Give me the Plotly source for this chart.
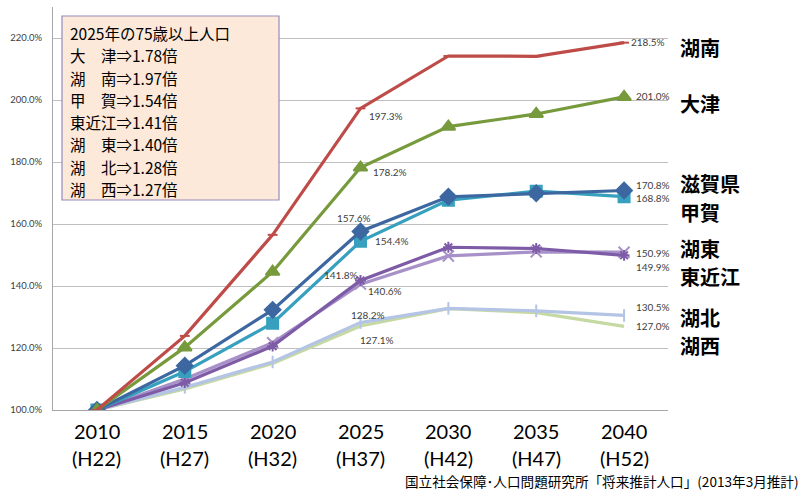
import plotly.graph_objects as go

years = ["2010", "2015", "2020", "2025", "2030", "2035", "2040"]
heisei = ["(H22)", "(H27)", "(H32)", "(H37)", "(H42)", "(H47)", "(H52)"]

konan = [100, 123.9, 156.5, 197.3, 214.2, 214.1, 218.5]
otsu = [100, 120.2, 144.6, 178.2, 191.4, 195.5, 201.0]
shiga = [100, 114.3, 132.3, 157.6, 168.8, 169.9, 170.8]
koka = [100, 112.4, 128.0, 154.4, 167.7, 170.6, 168.8]
higashiomi = [100, 108.8, 120.6, 141.8, 152.5, 152.1, 149.9]
koto = [100, 110.0, 121.7, 140.6, 149.7, 151.0, 150.9]
kohoku = [100, 107.3, 115.5, 128.2, 132.8, 132.0, 130.5]
kosei = [100, 106.8, 115.0, 127.1, 132.7, 131.4, 127.0]

ratio_lines = ["2025年の75歳以上人口", "大　津⇒1.78倍", "湖　南⇒1.97倍", "甲　賀⇒1.54倍",
               "東近江⇒1.41倍", "湖　東⇒1.40倍", "湖　北⇒1.28倍", "湖　西⇒1.27倍"]
side_names = ["湖南", "大津", "滋賀県", "甲賀", "湖東", "東近江", "湖北", "湖西"]
source_text = "国立社会保障･人口問題研究所「将来推計人口」(2013年3月推計)"

series = [
    # name, data, color, marker symbol, marker size
    ("湖西", kosei, "#C6D9A2", "circle", 0),
    ("湖北", kohoku, "#B4C4E4", "line-ns-open", 9),
    ("湖東", koto, "#A891C8", "x-thin-open", 11),
    ("東近江", higashiomi, "#7D5BA6", "asterisk-open", 9),
    ("甲賀", koka, "#37A0BE", "square", 11),
    ("滋賀県", shiga, "#3C67A0", "diamond", 12),
    ("大津", otsu, "#779A3C", "triangle-up", 12),
    ("湖南", konan, "#BE4B48", "line-ew-open", 7),
]

L, R, T, B, W, H = 53, 137, 7, 80, 805, 490
PW, PH = W - L - R, H - T - B


def px(xp):
    return (xp - L) / PW


def py(yp):
    return (H - B - yp) / PH


fig = go.Figure()
for name, vals, col, sym, size in series:
    fig.add_trace(go.Scatter(
        x=list(range(len(years))), y=vals, mode="lines+markers" if size else "lines", name=name,
        line=dict(color=col, width=3.2),
        marker=dict(symbol=sym, size=size, color=col, line=dict(color=col, width=2)),
        showlegend=False,
    ))

lab_font = dict(family="Lato, Carlito, sans-serif", size=10, color="#404040")
labels = [
    # series values, index, xanchor, xshift, yshift
    (konan, 6, "left", 5, 1),
    (otsu, 6, "left", 10, 1),
    (shiga, 6, "left", 10, 6),
    (koka, 6, "left", 10, -1),
    (koto, 6, "left", 10, -1),
    (higashiomi, 6, "left", 10, -12),
    (kohoku, 6, "left", 10, 8),
    (kosei, 6, "left", 10, 0),
    (konan, 3, "left", 6, -8),
    (otsu, 3, "left", 10, -4),
    (shiga, 3, "center", -7, 13),
    (koka, 3, "left", 12, 0),
    (higashiomi, 3, "right", -1, 5),
    (koto, 3, "left", 5, -7),
    (kohoku, 3, "center", 7, 8),
    (kosei, 3, "center", 16, -14),
]
for vals, i, xa, xs, ys in labels:
    fig.add_annotation(x=i, y=vals[i], xref="x", yref="y", text=f"{vals[i]:.1f}%",
                       showarrow=False, xanchor=xa, yanchor="middle", xshift=xs, yshift=ys,
                       font=lab_font)

# x tick labels (two lines)
for i, (yr, h) in enumerate(zip(years, heisei)):
    fig.add_annotation(x=i, y=0, xref="x", yref="paper", text=yr, showarrow=False,
                       yanchor="middle", yshift=-21,
                       font=dict(family="Lato, Carlito, sans-serif", size=20, color="#000"))
    fig.add_annotation(x=i, y=0, xref="x", yref="paper", text=h, showarrow=False,
                       yanchor="middle", yshift=-48,
                       font=dict(family="Lato, Carlito, sans-serif", size=20, color="#000"))

# info box
fig.add_shape(type="rect", xref="paper", yref="paper", x0=px(62), x1=px(279), y0=py(200), y1=py(16),
              fillcolor="#FDE9D9", line=dict(color="#9A88BC", width=1.2), layer="above")
for k, line in enumerate(ratio_lines):
    fig.add_annotation(x=px(69), y=py(33 + 22.3 * k), xref="paper", yref="paper",
                       xanchor="left", yanchor="middle", text=line, showarrow=False,
                       borderpad=0,
                       font=dict(family="Noto Sans CJK JP", size=15.5, color="#000"))

# side labels
side_y = [47, 103, 183, 212, 248, 276, 317, 345]
for nm, yp in zip(side_names, side_y):
    fig.add_annotation(x=px(678), y=py(yp), xref="paper", yref="paper",
                       xanchor="left", yanchor="middle", text=f"<b>{nm}</b>", showarrow=False,
                       font=dict(family="Noto Sans CJK JP", size=20, color="#000"))

fig.add_annotation(x=px(801), y=py(481), xref="paper", yref="paper",
                   xanchor="right", yanchor="middle", text=source_text, showarrow=False,
                   font=dict(family="Noto Sans CJK JP", size=13.6, color="#000"))

fig.update_layout(
    width=W, height=H,
    margin=dict(l=L, r=R, t=T, b=B),
    paper_bgcolor="white", plot_bgcolor="white",
    xaxis=dict(range=[-0.5, 6.5], showticklabels=False, showgrid=False,
               showline=True, linecolor="#A6A6A6", linewidth=1, ticks="", zeroline=False),
    yaxis=dict(range=[100, 230], tickvals=[100, 120, 140, 160, 180, 200, 220],
               ticktext=[f"{v:.1f}%" for v in [100, 120, 140, 160, 180, 200, 220]],
               showgrid=True, gridcolor="#BFBFBF", gridwidth=1,
               showline=True, linecolor="#A6A6A6", linewidth=1, ticks="",
               ticklabelstandoff=8, zeroline=False,
               tickfont=dict(family="Lato, Carlito, sans-serif", size=9.5, color="#404040")),
)

fig.write_html("out.html")
